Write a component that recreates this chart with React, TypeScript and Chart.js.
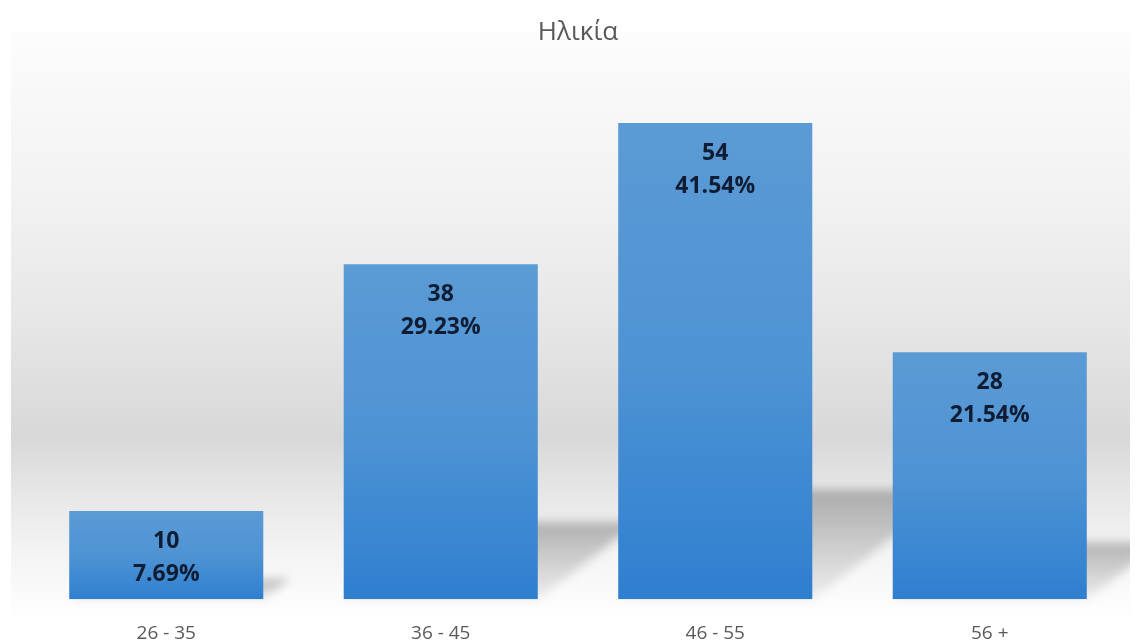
import React, { useEffect, useRef } from "react";
import { Chart, registerables } from "chart.js";

Chart.register(...registerables);

const categories = ["26 - 35", "36 - 45", "46 - 55", "56 +"];
const counts = [10, 38, 54, 28];
const percentLabels = ["7.69%", "29.23%", "41.54%", "21.54%"];
const chartTitle = "Ηλικία";

const backgroundPlugin = {
  id: "bgGradient",
  beforeDraw(chart: any) {
    const { ctx, width, height } = chart;
    ctx.save();
    ctx.fillStyle = "#ffffff";
    ctx.fillRect(0, 0, width, height);
    const top = 32;
    const g = ctx.createLinearGradient(0, top, 0, 620);
    g.addColorStop(0, "#fcfcfc");
    g.addColorStop(0.28, "#f2f2f2");
    g.addColorStop(0.5, "#e6e6e6");
    g.addColorStop(0.69, "#d8d8d8");
    g.addColorStop(0.78, "#e6e6e6");
    g.addColorStop(0.88, "#f3f3f3");
    g.addColorStop(1, "#ffffff");
    ctx.fillStyle = g;
    ctx.fillRect(11, top, 1119, height - top);
    ctx.restore();
  },
  beforeDatasetsDraw(chart: any) {
    const { ctx } = chart;
    const meta = chart.getDatasetMeta(0);
    ctx.save();
    ctx.beginPath();
    ctx.rect(11, 32, 1119, chart.height - 32);
    ctx.clip();
    ctx.filter = "blur(5px)";
    meta.data.forEach((bar: any) => {
      const left = bar.x - bar.width / 2;
      const right = bar.x + bar.width / 2;
      const h = bar.base - bar.y;
      const sh = h * 0.23;
      const dx = sh * 1.3;
      const g = ctx.createLinearGradient(0, bar.base - sh, 0, bar.base);
      g.addColorStop(0, "rgba(0,0,0,0.26)");
      g.addColorStop(1, "rgba(0,0,0,0.05)");
      ctx.fillStyle = g;
      ctx.beginPath();
      ctx.moveTo(left, bar.base);
      ctx.lineTo(right, bar.base);
      ctx.lineTo(right + dx, bar.base - sh);
      ctx.lineTo(left + dx, bar.base - sh);
      ctx.closePath();
      ctx.fill();
    });
    ctx.restore();
  },
};

const labelPlugin = {
  id: "barLabels",
  afterDatasetsDraw(chart: any) {
    const { ctx } = chart;
    const meta = chart.getDatasetMeta(0);
    ctx.save();
    ctx.fillStyle = "#101c33";
    ctx.font = "bold 23px 'Open Sans'";
    ctx.textAlign = "center";
    ctx.textBaseline = "middle";
    meta.data.forEach((bar: any, i: number) => {
      ctx.fillText(String(counts[i]), bar.x, bar.y + 30);
      ctx.fillText(percentLabels[i], bar.x, bar.y + 63);
    });
    ctx.restore();
  },
};

export default function App() {
  const ref = useRef<HTMLCanvasElement | null>(null);
  useEffect(() => {
    if (!ref.current) return;
    const chart = new Chart(ref.current, {
      type: "bar",
      data: {
        labels: categories,
        datasets: [
          {
            data: counts,
            backgroundColor: (c: any) => {
              const ch = c.chart;
              const ys = ch.scales && ch.scales.y;
              if (!ys || c.dataIndex === undefined) return "#4a8fd4";
              const v = counts[c.dataIndex];
              const yTop = ys.getPixelForValue(v);
              const yBase = ys.getPixelForValue(0);
              if (!isFinite(yTop) || !isFinite(yBase) || yTop === yBase) return "#4a8fd4";
              const g = ch.ctx.createLinearGradient(0, yTop, 0, yBase);
              g.addColorStop(0, "#5b9bd5");
              g.addColorStop(0.5, "#4e93d4");
              g.addColorStop(1, "#2f7fd0");
              return g;
            },
            borderWidth: 0,
            barPercentage: 0.707,
            categoryPercentage: 1,
          },
        ],
      },
      options: {
        responsive: true,
        maintainAspectRatio: false,
        animation: false,
        layout: { padding: { left: 29, right: 10, top: 0, bottom: -27 } },
        plugins: {
          legend: { display: false },
          tooltip: { enabled: false },
          title: {
            display: true,
            text: chartTitle,
            color: "#595959",
            font: { family: "'Open Sans'", size: 26, weight: "normal" },
            padding: { top: 17, bottom: 22 },
          },
        },
        scales: {
          x: {
            grid: { display: false, drawTicks: false },
            border: { display: false },
            ticks: {
              color: "#595959",
              font: { family: "'Open Sans'", size: 19 },
              padding: 23,
            },
          },
          y: {
            display: false,
            min: 0,
            max: 60,
          },
        },
      },
      plugins: [backgroundPlugin, labelPlugin],
    });
    return () => chart.destroy();
  }, []);
  return (
    <div style={{ position: "absolute", left: 0, top: 0, width: 1137, height: 641 }}>
      <canvas ref={ref} />
    </div>
  );
}
